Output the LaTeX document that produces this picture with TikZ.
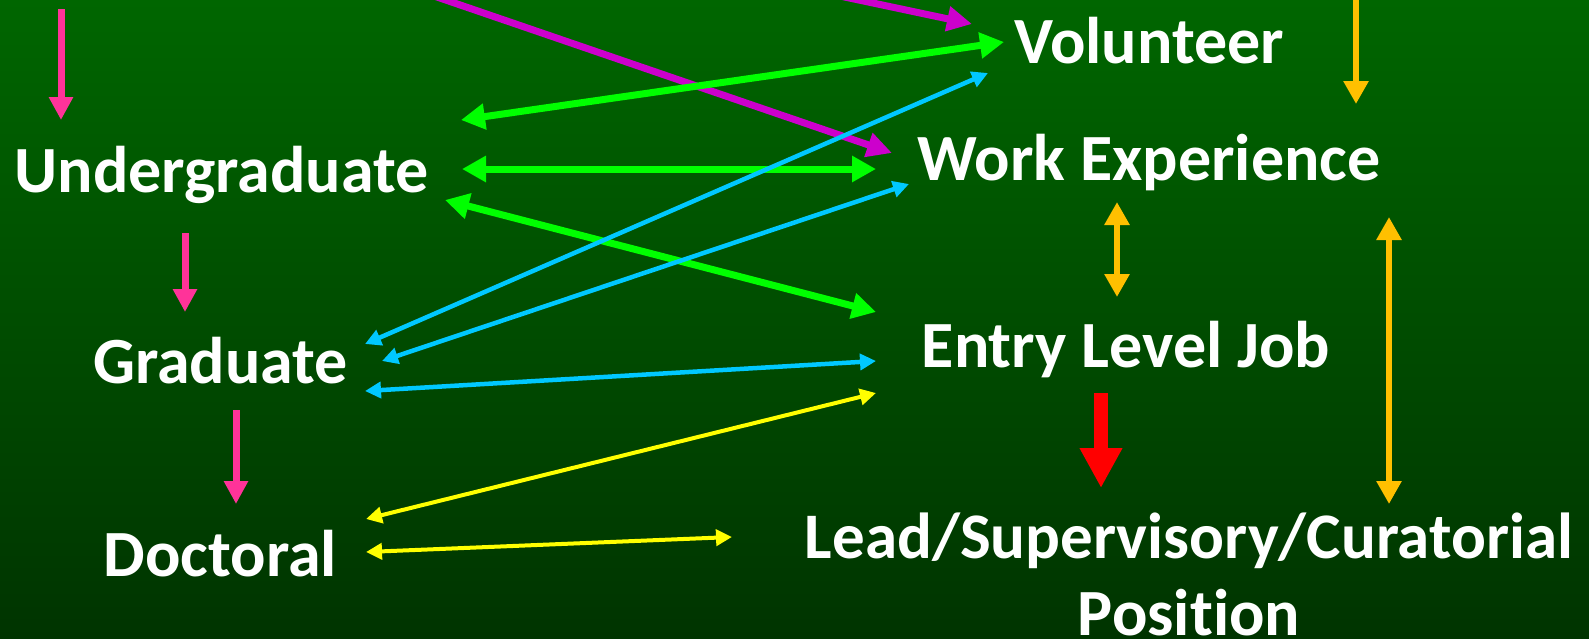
\documentclass[tikz,border=0pt]{standalone}
\usepackage{fontspec}
\setmainfont{Carlito}[Ligatures=NoCommon]
\usepackage{tikz}
\usetikzlibrary{arrows.meta}

\definecolor{bgtop}{RGB}{0,102,0}
\definecolor{bgbot}{RGB}{0,52,0}
\definecolor{pinkarr}{RGB}{255,51,153}
\definecolor{magarr}{RGB}{204,0,204}
\definecolor{grnarr}{RGB}{0,255,0}
\definecolor{cyanarr}{RGB}{0,200,255}
\definecolor{yelarr}{RGB}{255,255,0}
\definecolor{orgarr}{RGB}{255,192,0}
\definecolor{redarr}{RGB}{255,0,0}

\begin{document}
\begin{tikzpicture}[x=1pt,y=-1pt,
    lbl/.style={anchor=base,text=white,font=\bfseries\fontsize{66}{79}\selectfont},
    pinkline/.style={draw=pinkarr,line width=7pt,-{Triangle[length=23pt,width=23pt]}},
    magline/.style={draw=magarr,line width=7pt,-{Triangle[length=25pt,width=24pt]}},
    grnline/.style={draw=grnarr,line width=7pt,{Triangle[length=24pt,width=25pt]}-{Triangle[length=24pt,width=25pt]}},
    cyanline/.style={draw=cyanarr,line width=4.5pt,{Triangle[length=16pt,width=16pt]}-{Triangle[length=16pt,width=16pt]}},
    yelline/.style={draw=yelarr,line width=4pt,{Triangle[length=16pt,width=16pt]}-{Triangle[length=16pt,width=16pt]}},
    orgline/.style={draw=orgarr,line width=6pt,-{Triangle[length=23pt,width=24pt]}},
    orgboth/.style={orgline,{Triangle[length=23pt,width=24pt]}-{Triangle[length=23pt,width=24pt]}},
    redline/.style={draw=redarr,line width=14pt,-{Triangle[length=40pt,width=40pt]}}]
    \tikzstyle{every node}+=[inner sep=0pt]
    \useasboundingbox (0,0) rectangle (1589,638);
    \clip (0,0) rectangle (1589,638);
    \fill[top color=bgtop,bottom color=bgbot] (0,0) rectangle (1589,638);
    % levels of study
    \node[lbl] (ug) at (221.5,192) {Undergraduate};
    \node[lbl] (gr) at (220.5,383) {Graduate};
    \node[lbl] (doc) at (220.5,576) {Doctoral};
    % kinds of work
    \node[lbl] (vol) at (1149,63) {Volunteer};
    \node[lbl] (we) at (1149,180) {Work Experience};
    \node[lbl] (elj) at (1126,367) {Entry Level Job};
    \node[lbl,font=\bfseries\fontsize{65}{78}\selectfont] (lead) at (1189,558) {Lead/Supervisory/Curatorial};
    \node[lbl] (pos) at (1189,635) {Position};
    % arrow ends
    \coordinate (top-a) at (61,9);     \coordinate (ug-a) at (61,120);
    \coordinate (ug-b) at (185,233);   \coordinate (gr-a) at (185,312);
    \coordinate (gr-b) at (236,410);   \coordinate (doc-a) at (236,504);
    \coordinate (top-b) at (670,-40);  \coordinate (vol-a) at (972,24);
    \coordinate (top-c) at (329,-40);  \coordinate (we-a) at (892,153);
    \coordinate (ug-c) at (461,120);   \coordinate (vol-b) at (1004,42);
    \coordinate (ug-d) at (462,169);   \coordinate (we-b) at (876,169);
    \coordinate (ug-e) at (445,200);   \coordinate (elj-a) at (876,312);
    \coordinate (gr-c) at (365,344);   \coordinate (vol-c) at (988,73);
    \coordinate (gr-d) at (382,361);   \coordinate (we-c) at (909,184);
    \coordinate (gr-e) at (365,391);   \coordinate (elj-b) at (876,361);
    \coordinate (doc-b) at (366,519);  \coordinate (elj-c) at (876,393);
    \coordinate (doc-c) at (366,552);  \coordinate (lead-a) at (732,537);
    \coordinate (top-d) at (1356,-5);  \coordinate (we-d) at (1356,104);
    \coordinate (we-e) at (1117,202);  \coordinate (elj-d) at (1117,297);
    \coordinate (we-f) at (1389,217);  \coordinate (lead-b) at (1389,504);
    \coordinate (elj-e) at (1101,393); \coordinate (lead-c) at (1101,488);
    % connectors
    \draw[pinkline] (top-a) -- (ug-a);
    \draw[pinkline] (ug-b) -- (gr-a);
    \draw[pinkline] (gr-b) -- (doc-a);
    \draw[magline] (top-b) -- (vol-a);
    \draw[magline] (top-c) -- (we-a);
    \draw[grnline] (ug-c) -- (vol-b);
    \draw[grnline] (ug-d) -- (we-b);
    \draw[grnline] (ug-e) -- (elj-a);
    \draw[cyanline] (gr-c) -- (vol-c);
    \draw[cyanline] (gr-d) -- (we-c);
    \draw[cyanline] (gr-e) -- (elj-b);
    \draw[yelline] (doc-b) -- (elj-c);
    \draw[yelline] (doc-c) -- (lead-a);
    \draw[orgline] (top-d) -- (we-d);
    \draw[orgboth] (we-e) -- (elj-d);
    \draw[orgboth] (we-f) -- (lead-b);
    \draw[redline] (elj-e) -- (lead-c);
\end{tikzpicture}
\end{document}
